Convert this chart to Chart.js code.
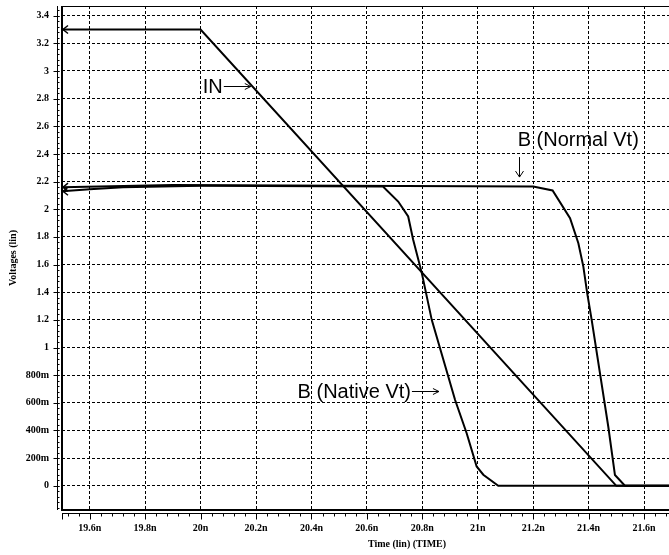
<!DOCTYPE html>
<html>
<head>
<meta charset="utf-8">
<script src="https://cdn.jsdelivr.net/npm/chart.js@4/dist/chart.umd.min.js"></script>
<style>
html,body{margin:0;padding:0;background:#fff;overflow:hidden;}
canvas{display:block;}
</style>
</head>
<body>
<canvas id="c" width="669" height="555"></canvas>
<script>
// ---- data (time in ns, voltage in V) ----
const inTime     = [19.5, 20.0, 21.5, 21.69];
const inVolt     = [3.3, 3.3, 0.0, 0.0];

const nativeTime = [19.5, 19.6, 19.72, 20.0, 20.658, 20.713, 20.749, 20.767, 20.798, 20.834, 20.918, 20.96, 20.996, 21.02, 21.074, 21.69];
const nativeVolt = [2.13, 2.145, 2.16, 2.17, 2.165, 2.056, 1.948, 1.78, 1.54, 1.2, 0.622, 0.38, 0.14, 0.08, 0.0, 0.0];

const normalTime = [19.5, 19.9, 20.5, 21.2, 21.27, 21.333, 21.363, 21.381, 21.395, 21.411, 21.471, 21.495, 21.531, 21.69];
const normalVolt = [2.16, 2.175, 2.17, 2.165, 2.136, 1.935, 1.754, 1.585, 1.392, 1.2, 0.427, 0.078, 0.0, 0.0];

const xTickValues = [19.6, 19.8, 20.0, 20.2, 20.4, 20.6, 20.8, 21.0, 21.2, 21.4, 21.6];
const xTickLabels = ['19.6n','19.8n','20n','20.2n','20.4n','20.6n','20.8n','21n','21.2n','21.4n','21.6n'];
const yTickValues = [0, 0.2, 0.4, 0.6, 0.8, 1.0, 1.2, 1.4, 1.6, 1.8, 2.0, 2.2, 2.4, 2.6, 2.8, 3.0, 3.2, 3.4];
const yTickLabels = ['0','200m','400m','600m','800m','1','1.2','1.4','1.6','1.8','2','2.2','2.4','2.6','2.8','3','3.2','3.4'];

const seriesNames = ['IN', 'B (Native Vt)', 'B (Normal Vt)'];

// annotations: text label anchored in data space (left, baseline)
const annotations = [
  {text: 'IN',            t: 20.008, v: 2.841, arrow: 'right'},
  {text: 'B (Normal Vt)', t: 21.144, v: 2.457, arrow: 'down'},
  {text: 'B (Native Vt)', t: 20.350, v: 0.633, arrow: 'right'}
];

function pts(ts, vs){ return ts.map((t,i)=>({x:t, y:vs[i]})); }

const labelFont = {family: "'Liberation Serif', 'Times New Roman', serif", size: 10, weight: 'bold'};

const decorPlugin = {
  id: 'decor',
  afterDraw(chart){
    const ctx = chart.ctx, ca = chart.chartArea;
    const xs = chart.scales.x, ys = chart.scales.y;
    ctx.save();
    ctx.strokeStyle = '#000';
    ctx.fillStyle = '#000';
    // frame
    ctx.lineWidth = 2;
    ctx.beginPath();
    ctx.moveTo(ca.left, ca.top); ctx.lineTo(ca.left, ca.bottom); ctx.lineTo(ca.right, ca.bottom);
    ctx.stroke();
    ctx.lineWidth = 1;
    ctx.beginPath(); ctx.moveTo(ca.left, ca.top + 0.5); ctx.lineTo(ca.right, ca.top + 0.5); ctx.stroke();
    // y axis line with ticks
    const ax = ca.left - 4.5;
    ctx.lineWidth = 1;
    ctx.beginPath(); ctx.moveTo(ax, ca.top); ctx.lineTo(ax, ca.bottom); ctx.stroke();
    ctx.beginPath();
    for (let v = -0.16; v <= 3.47; v += 0.04) {
      const y = Math.round(ys.getPixelForValue(v)) + 0.5;
      ctx.moveTo(ax, y); ctx.lineTo(ax + 2, y);
    }
    yTickValues.forEach(v => {
      const y = Math.round(ys.getPixelForValue(v)) + 0.5;
      ctx.moveTo(ax - 4, y); ctx.lineTo(ax + 2, y);
    });
    ctx.stroke();
    // x axis line with ticks
    const ay = ca.bottom + 3.5;
    ctx.beginPath(); ctx.moveTo(ca.left, ay); ctx.lineTo(ca.right, ay); ctx.stroke();
    ctx.beginPath();
    for (let t = 19.52; t <= 21.69; t += 0.04) {
      const x = Math.round(xs.getPixelForValue(t)) + 0.5;
      ctx.moveTo(x, ay); ctx.lineTo(x, ay + 3);
    }
    xTickValues.forEach(t => {
      const x = Math.round(xs.getPixelForValue(t)) + 0.5;
      ctx.moveTo(x, ay); ctx.lineTo(x, ay + 6);
    });
    ctx.moveTo(ca.left + 0.5, ay); ctx.lineTo(ca.left + 0.5, ay + 6);
    ctx.stroke();
    // x axis title
    ctx.font = 'bold 10px ' + labelFont.family;
    ctx.textAlign = 'center'; ctx.textBaseline = 'middle';
    ctx.fillText('Time (lin) (TIME)', 407, 544);

    // start arrowheads on each curve
    ctx.lineWidth = 1.5;
    chart.data.datasets.forEach(ds => {
      const p = ds.data[0];
      const x = xs.getPixelForValue(p.x) + 1, y = ys.getPixelForValue(p.y);
      ctx.beginPath();
      ctx.moveTo(x + 5, y - 4); ctx.lineTo(x, y); ctx.lineTo(x + 5, y + 4);
      ctx.stroke();
    });

    // annotations
    ctx.font = "20px 'Liberation Sans', Arial, sans-serif";
    ctx.textAlign = 'left'; ctx.textBaseline = 'alphabetic';
    ctx.lineWidth = 1;
    annotations.forEach(a => {
      const x = xs.getPixelForValue(a.t), y = ys.getPixelForValue(a.v);
      ctx.fillText(a.text, x, y);
      const w = ctx.measureText(a.text).width;
      ctx.beginPath();
      if (a.arrow === 'right') {
        const yy = Math.round(y - 7) + 0.5, x0 = x + w + 1, x1 = x0 + 27;
        ctx.moveTo(x0, yy); ctx.lineTo(x1, yy);
        ctx.moveTo(x1 - 6, yy - 3); ctx.lineTo(x1, yy); ctx.lineTo(x1 - 6, yy + 3);
      } else {
        const xx = Math.round(x + 1.5) + 0.5, y0 = y + 11, y1 = y0 + 20;
        ctx.moveTo(xx, y0); ctx.lineTo(xx, y1);
        ctx.moveTo(xx - 4, y1 - 6); ctx.lineTo(xx, y1); ctx.lineTo(xx + 4, y1 - 6);
      }
      ctx.stroke();
    });
    ctx.restore();
  }
};

new Chart(document.getElementById('c'), {
  type: 'line',
  data: {
    datasets: [
      {label: seriesNames[0], data: pts(inTime, inVolt)},
      {label: seriesNames[1], data: pts(nativeTime, nativeVolt)},
      {label: seriesNames[2], data: pts(normalTime, normalVolt)}
    ].map(d => Object.assign(d, {borderColor: '#000', borderWidth: 2, pointRadius: 0, tension: 0, fill: false}))
  },
  options: {
    responsive: false,
    animation: false,
    devicePixelRatio: 1,
    layout: {padding: {top: 6, right: 0, left: 0, bottom: 0}},
    plugins: {legend: {display: false}, tooltip: {enabled: false}},
    scales: {
      x: {
        type: 'linear', min: 19.5, max: 21.69,
        afterBuildTicks: s => { s.ticks = xTickValues.map(v => ({value: v})); },
        afterFit: s => { s.height = 45; s.paddingLeft = 0; s.paddingRight = 0; },
        ticks: {
          callback: (v) => xTickLabels[xTickValues.findIndex(t => Math.abs(t - v) < 1e-6)],
          font: labelFont, color: '#000', padding: 12, maxRotation: 0, autoSkip: false
        },
        grid: {color: '#000', lineWidth: 1, drawTicks: false},
        border: {display: false, dash: [3, 2]}
      },
      y: {
        type: 'linear', min: -0.175, max: 3.47,
        afterBuildTicks: s => { s.ticks = yTickValues.map(v => ({value: v})); },
        afterFit: s => { s.width = 62; s.paddingTop = 0; s.paddingBottom = 0; },
        ticks: {
          callback: (v) => yTickLabels[yTickValues.findIndex(t => Math.abs(t - v) < 1e-6)],
          font: labelFont, color: '#000', padding: 13, autoSkip: false
        },
        title: {display: true, text: 'Voltages (lin)', font: labelFont, color: '#000', padding: {top: 7, bottom: 0}},
        grid: {color: '#000', lineWidth: 1, drawTicks: false},
        border: {display: false, dash: [3, 2]}
      }
    }
  },
  plugins: [decorPlugin]
});
</script>
</body>
</html>
